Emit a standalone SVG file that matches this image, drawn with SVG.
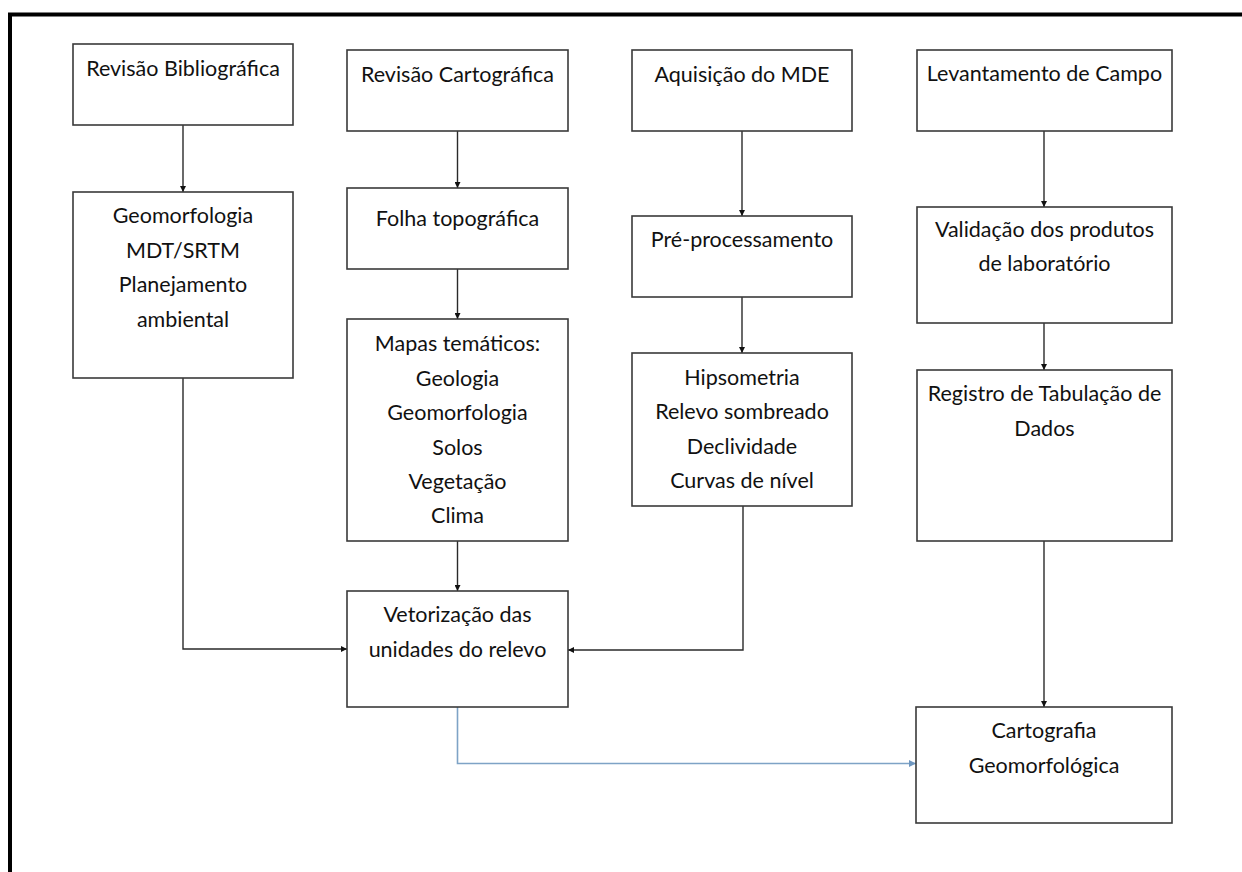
<svg xmlns="http://www.w3.org/2000/svg" width="1242" height="872" viewBox="0 0 1242 872">
<style>
.box{fill:#fff;stroke:#3a3a3a;stroke-width:1.6}
.t{font-family:Lato,"Open Sans",sans-serif;font-size:21.5px;fill:#111;text-anchor:middle}
.c{fill:none;stroke:#2a2a2a;stroke-width:1.4}
.cb{fill:none;stroke:#7ea3c6;stroke-width:1.6}
</style>
<defs>
<marker id="ah" viewBox="0 0 10 10" refX="10" refY="5" markerWidth="6" markerHeight="6" markerUnits="userSpaceOnUse" orient="auto"><path d="M0,0 L10,5 L0,10 z" fill="#111"/></marker>
<marker id="ahb" viewBox="0 0 10 10" refX="10" refY="5" markerWidth="7" markerHeight="7" markerUnits="userSpaceOnUse" orient="auto"><path d="M0,0 L10,5 L0,10 z" fill="#6f97c0"/></marker>
</defs>
<rect width="1242" height="872" fill="#fff"/>
<path d="M10,872 V14.5 H1242" fill="none" stroke="#000" stroke-width="4"/>

<g id="connectors">
<path class="c" d="M183,125 V192" marker-end="url(#ah)"/>
<path class="c" d="M457.5,131 V188" marker-end="url(#ah)"/>
<path class="c" d="M457.5,269 V319" marker-end="url(#ah)"/>
<path class="c" d="M457.5,541 V591" marker-end="url(#ah)"/>
<path class="c" d="M742,131 V216" marker-end="url(#ah)"/>
<path class="c" d="M742,297 V353" marker-end="url(#ah)"/>
<path class="c" d="M1044,131 V207" marker-end="url(#ah)"/>
<path class="c" d="M1044,323 V370" marker-end="url(#ah)"/>
<path class="c" d="M1044,541 V707" marker-end="url(#ah)"/>
<path class="c" d="M183,378 V649 H347" marker-end="url(#ah)"/>
<path class="c" d="M743,506 V650 H568" marker-end="url(#ah)"/>
<path class="cb" d="M457.5,707 V763.5 H916" marker-end="url(#ahb)"/>
</g>

<g id="n-revbib"><rect class="box" x="73" y="44" width="220" height="81"/><text class="t" x="183" y="76">Revisão Bibliográfica</text></g>
<g id="n-revcart"><rect class="box" x="347" y="50" width="221" height="81"/><text class="t" x="457.5" y="82">Revisão Cartográfica</text></g>
<g id="n-mde"><rect class="box" x="632" y="50" width="220" height="81"/><text class="t" x="742" y="82">Aquisição do MDE</text></g>
<g id="n-campo"><rect class="box" x="917" y="50" width="255" height="81"/><text class="t" x="1044.5" y="81">Levantamento de Campo</text></g>

<g id="n-geomorf"><rect class="box" x="73" y="192" width="220" height="186"/>
<text class="t" x="183" y="223">Geomorfologia</text>
<text class="t" x="183" y="257.5">MDT/SRTM</text>
<text class="t" x="183" y="292">Planejamento</text>
<text class="t" x="183" y="326.5">ambiental</text></g>

<g id="n-folha"><rect class="box" x="347" y="188" width="221" height="81"/><text class="t" x="457.5" y="226">Folha topográfica</text></g>
<g id="n-pre"><rect class="box" x="632" y="216" width="220" height="81"/><text class="t" x="742" y="247">Pré-processamento</text></g>
<g id="n-valid"><rect class="box" x="917" y="207" width="255" height="116"/>
<text class="t" x="1044.5" y="237">Validação dos produtos</text>
<text class="t" x="1044.5" y="271">de laboratório</text></g>

<g id="n-mapas"><rect class="box" x="347" y="319" width="221" height="222"/>
<text class="t" x="457.5" y="351">Mapas temáticos:</text>
<text class="t" x="457.5" y="385.5">Geologia</text>
<text class="t" x="457.5" y="420">Geomorfologia</text>
<text class="t" x="457.5" y="454.5">Solos</text>
<text class="t" x="457.5" y="489">Vegetação</text>
<text class="t" x="457.5" y="523">Clima</text></g>

<g id="n-hips"><rect class="box" x="632" y="353" width="220" height="153"/>
<text class="t" x="742" y="384.5">Hipsometria</text>
<text class="t" x="742" y="419">Relevo sombreado</text>
<text class="t" x="742" y="453.5">Declividade</text>
<text class="t" x="742" y="488">Curvas de nível</text></g>

<g id="n-registro"><rect class="box" x="917" y="370" width="255" height="171"/>
<text class="t" x="1044.5" y="401">Registro de Tabulação de</text>
<text class="t" x="1044.5" y="435.5">Dados</text></g>

<g id="n-vetor"><rect class="box" x="347" y="591" width="221" height="116"/>
<text class="t" x="457.5" y="622">Vetorização das</text>
<text class="t" x="457.5" y="657">unidades do relevo</text></g>

<g id="n-carto"><rect class="box" x="916" y="707" width="256" height="116"/>
<text class="t" x="1044" y="738">Cartografia</text>
<text class="t" x="1044" y="773">Geomorfológica</text></g>
</svg>
